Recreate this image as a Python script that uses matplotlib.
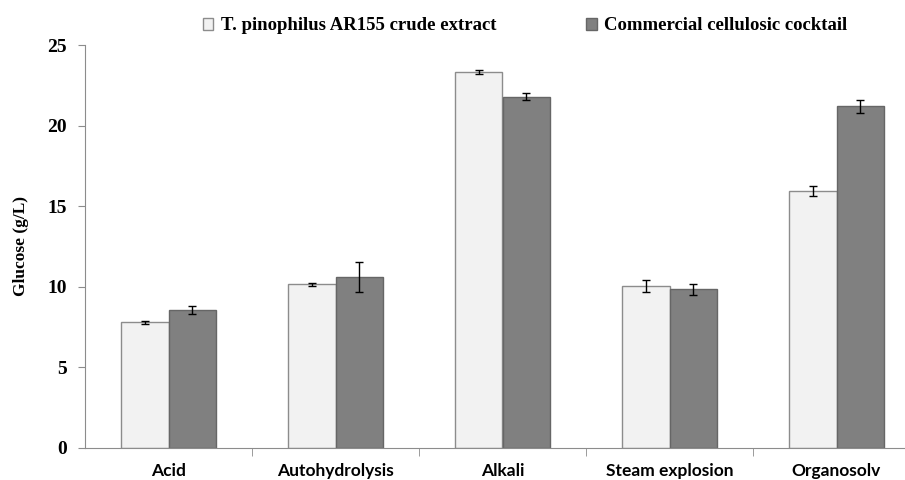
import numpy as np
import matplotlib.pyplot as plt

categories = ["Acid", "Autohydrolysis", "Alkali", "Steam explosion", "Organosolv"]
crude = [7.8, 10.15, 23.3, 10.05, 15.95]
crude_err = [0.1, 0.08, 0.12, 0.35, 0.3]
commercial = [8.55, 10.6, 21.8, 9.85, 21.2]
commercial_err = [0.25, 0.95, 0.2, 0.35, 0.4]
series_names = ["T. pinophilus AR155 crude extract", "Commercial cellulosic cocktail"]

fig = plt.figure(figsize=(9.05, 4.8), dpi=100)
ax = fig.add_axes([85 / 905, 32 / 480, 820 / 905, 403 / 480])

x = np.arange(len(categories))
w = 0.285
ekw = dict(ecolor="black", elinewidth=1, capsize=3, capthick=1)
ax.bar(x - w / 2, crude, w, yerr=crude_err, color="#f2f2f2", edgecolor="#8c8c8c",
       linewidth=1, error_kw=ekw, label=series_names[0])
ax.bar(x + w / 2, commercial, w, yerr=commercial_err, color="#808080", edgecolor="#666666",
       linewidth=1, error_kw=ekw, label=series_names[1])

ax.set_xlim(-0.5, -0.5 + 820 / 167)
ax.set_ylim(0, 25)
ax.set_yticks([0, 5, 10, 15, 20, 25])
ax.set_xticks(x)
ax.set_xticklabels(categories, fontfamily="Lato", fontweight="bold", fontsize=12.5)
ax.set_xticks(np.arange(0.5, len(categories) - 0.5), minor=True)
ax.tick_params(axis="x", which="major", length=0, pad=11)
ax.tick_params(axis="x", which="minor", length=6, color="#8c8c8c", direction="out")
ax.tick_params(axis="y", length=5, color="#8c8c8c", direction="out", pad=8)
for lab in ax.get_yticklabels():
    lab.set_fontfamily("Liberation Serif")
    lab.set_fontweight("bold")
    lab.set_fontsize(14)
ax.set_ylabel("Glucose (g/L)", fontfamily="Liberation Serif", fontweight="bold",
              fontsize=12.5, labelpad=13)
for s in ["top", "right"]:
    ax.spines[s].set_visible(False)
for s in ["left", "bottom"]:
    ax.spines[s].set_color("#8c8c8c")

fig.legend(loc="center left", bbox_to_anchor=(203 / 905, 1 - 26 / 480), ncol=2, frameon=False,
           prop=dict(family="Liberation Serif", weight="bold", size=13.5),
           handlelength=0.55, handleheight=0.55, handletextpad=0.4, columnspacing=4.8,
           borderpad=0, borderaxespad=0)

fig.savefig("out.png", dpi=100)
